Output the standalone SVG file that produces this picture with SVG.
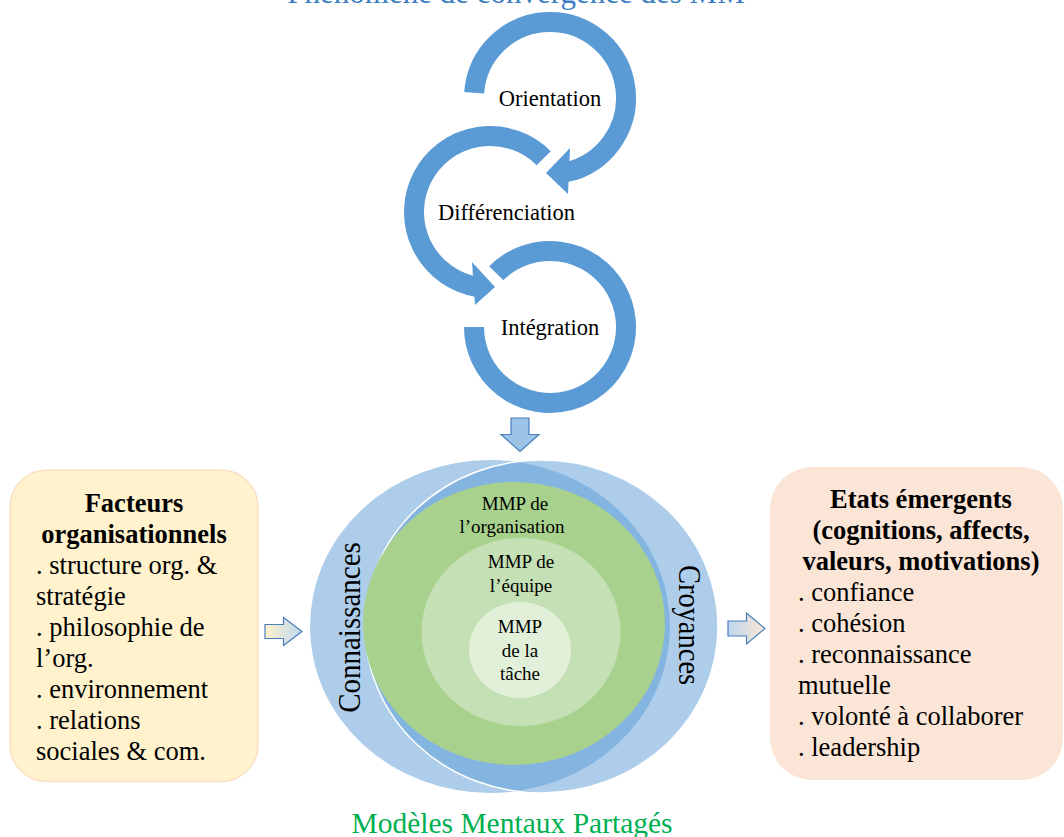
<svg xmlns="http://www.w3.org/2000/svg" width="1064" height="837" viewBox="0 0 1064 837">
  <defs>
    <linearGradient id="gL" x1="0" y1="0" x2="1" y2="0">
      <stop offset="0" stop-color="#FFF2CC"/>
      <stop offset="1" stop-color="#BDD7EE"/>
    </linearGradient>
    <linearGradient id="gR" x1="0" y1="0" x2="1" y2="0">
      <stop offset="0" stop-color="#BDD7EE"/>
      <stop offset="1" stop-color="#FBE5D6"/>
    </linearGradient>
  </defs>
  <style>
    .ring { fill: none; stroke: #5B9BD5; stroke-width: 20; stroke-linecap: butt; }
    .head { fill: #5B9BD5; }
    .t { font-family: "Liberation Serif", "Times New Roman", serif; fill: #000; }
    .lbl { font-size: 22.5px; text-anchor: middle; }
    .mmp { font-size: 19px; text-anchor: middle; }
    .box { font-size: 26.5px; }
    .bold { font-weight: bold; text-anchor: middle; }
    .blob { fill: #5B9BD5; fill-opacity: 0.5; }
    .sarrow { stroke: #4A7EBB; stroke-width: 1.2; }
  </style>

  <text id="title" class="t" x="516" y="3" font-size="31" text-anchor="middle" style="fill:#3A7CC2">Phénomène de convergence des MM</text>

  <g id="cycle">
    <g id="orientation">
      <path class="ring" d="M474.19,92.70 A76,76 0 1 1 565.80,172.34"/>
      <polygon class="head" points="570,148 568,194 546,173"/>
      <text class="t lbl" x="550" y="106">Orientation</text>
    </g>
    <g id="differenciation">
      <path class="ring" d="M543.74,158.26 A76,76 0 1 0 476.80,286.85"/>
      <polygon class="head" points="472,262 475,305 495,287"/>
      <text class="t lbl" x="506.5" y="220">Différenciation</text>
    </g>
    <g id="integration">
      <path class="ring" d="M496.26,273.26 A76,76 0 1 1 474,327"/>
      <text class="t lbl" x="550" y="335">Intégration</text>
    </g>
  </g>

  <g id="connectors">
    <polygon class="sarrow" fill="#9DC3E6" stroke="#41719C" points="511,418 529,418 529,434.5 539,434.5 520,451.5 501,434.5 511,434.5"/>
    <polygon class="sarrow" fill="url(#gL)" points="265,624.5 283.5,624.5 283.5,617.5 302,631.5 283.5,645.5 283.5,638.5 265,638.5"/>
    <polygon class="sarrow" fill="url(#gR)" points="728,621 746.5,621 746.5,613 765,628.5 746.5,644 746.5,636 728,636"/>
  </g>

  <g id="mmp">
    <ellipse class="blob" cx="490" cy="626.5" rx="180" ry="166.5"/>
    <ellipse class="blob" cx="541.5" cy="626.5" rx="176.5" ry="166.5" stroke="#FFFFFF" stroke-width="1.5" stroke-opacity="1"/>
    <ellipse cx="514" cy="623.5" rx="151" ry="141.5" fill="#A9D18E"/>
    <ellipse cx="521" cy="632" rx="99.5" ry="94" fill="#C5E0B4"/>
    <ellipse cx="520" cy="650" rx="51" ry="48" fill="#E2F0D9"/>
    <text class="t" font-size="29" text-anchor="middle" transform="translate(360,627.5) rotate(-90) scale(1,1.1)">Connaissances</text>
    <text class="t" font-size="28.5" text-anchor="middle" transform="translate(678.5,625) rotate(90) scale(1,1.1)">Croyances</text>
    <text class="t mmp" x="515" y="510">MMP de</text>
    <text class="t mmp" x="512" y="533">l’organisation</text>
    <text class="t mmp" x="521" y="568">MMP de</text>
    <text class="t mmp" x="521" y="591.5">l’équipe</text>
    <text class="t mmp" x="520" y="633">MMP</text>
    <text class="t mmp" x="520" y="656.5">de la</text>
    <text class="t mmp" x="520" y="679.5">tâche</text>
  </g>

  <g id="facteurs">
    <rect x="10" y="470" width="248" height="311.5" rx="37" fill="#FFF2CC" stroke="#F9E0C4" stroke-width="1.5"/>
    <text class="t box bold" x="134" y="512">Facteurs</text>
    <text class="t box bold" x="134" y="543">organisationnels</text>
    <text class="t box" x="36" y="574">. structure org. &amp;</text>
    <text class="t box" x="36" y="605">stratégie</text>
    <text class="t box" x="36" y="636">. philosophie de</text>
    <text class="t box" x="36" y="667">l’org.</text>
    <text class="t box" x="36" y="698">. environnement</text>
    <text class="t box" x="36" y="729">. relations</text>
    <text class="t box" x="36" y="760">sociales &amp; com.</text>
  </g>

  <g id="etats">
    <rect x="770" y="467" width="293" height="313" rx="42" fill="#FBE5D6"/>
    <text class="t box bold" x="921" y="508">Etats émergents</text>
    <text class="t box bold" x="921" y="539">(cognitions, affects,</text>
    <text class="t box bold" x="921" y="570">valeurs, motivations)</text>
    <text class="t box" x="798" y="601">. confiance</text>
    <text class="t box" x="798" y="632">. cohésion</text>
    <text class="t box" x="798" y="663">. reconnaissance</text>
    <text class="t box" x="798" y="694">mutuelle</text>
    <text class="t box" x="798" y="725">. volonté à collaborer</text>
    <text class="t box" x="798" y="756">. leadership</text>
  </g>

  <text id="caption" class="t" x="512" y="833" font-size="29.5" text-anchor="middle" style="fill:#00B050">Modèles Mentaux Partagés</text>
</svg>
